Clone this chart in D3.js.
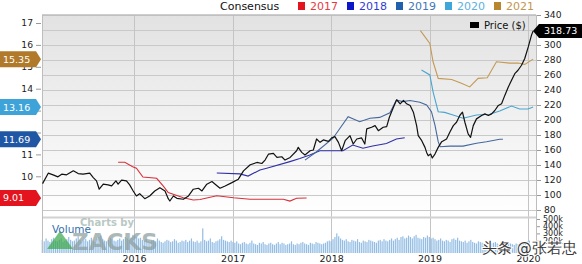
<!DOCTYPE html>
<html>
<head>
<meta charset="utf-8">
<script src="https://cdn.jsdelivr.net/npm/d3@7"></script>
<style>
  body { margin: 0; background: #fff; }
  text { font-family: "DejaVu Sans", Verdana, sans-serif; }
</style>
</head>
<body>
<div id="chart"></div>
<script>
// --- data ---
const priceData = [
  ["2015-01-27",115.2],["2015-02-17",129.1],["2015-03-07",126.9],["2015-03-25",124.2],["2015-04-08",127.8],
  ["2015-04-26",126.9],["2015-05-21",132.2],["2015-06-08",128.6],["2015-06-26",127.8],["2015-07-21",129.1],
  ["2015-08-03",123.2],["2015-08-15",118.8],["2015-08-25",107.7],["2015-09-09",114.4],["2015-09-27",113.5],
  ["2015-10-10",112.1],["2015-10-26",118.8],["2015-11-03",114.4],["2015-11-16",119.8],["2015-12-04",118.8],
  ["2015-12-16",113.5],["2015-12-29",105.4],["2016-01-10",98.7],["2016-01-22",101.8],["2016-02-10",95.1],
  ["2016-02-28",98.7],["2016-03-18",105.4],["2016-04-06",109.8],["2016-04-25",105.4],["2016-05-07",95.1],
  ["2016-05-13",92.0],["2016-05-26",98.7],["2016-06-08",95.6],["2016-07-02",94.3],["2016-07-21",98.7],
  ["2016-08-08",107.7],["2016-08-27",109.0],["2016-09-09",105.4],["2016-09-27",114.4],["2016-10-16",117.9],
  ["2016-10-28",114.4],["2016-11-15",109.0],["2016-12-04",112.1],["2016-12-29",116.5],["2017-01-22",121.1],
  ["2017-02-10",132.2],["2017-03-07",140.3],["2017-04-01",143.4],["2017-04-19",142.0],["2017-05-01",146.6],
  ["2017-05-14",154.6],["2017-06-01",155.4],["2017-06-14",150.1],["2017-07-02",151.0],["2017-07-14",146.6],
  ["2017-08-02",150.1],["2017-08-26",159.0],["2017-09-01",163.5],["2017-09-14",156.8],["2017-09-26",153.3],
  ["2017-10-15",159.0],["2017-10-27",160.0],["2017-11-08",174.7],["2017-11-21",170.2],["2017-12-03",173.4],
  ["2017-12-22",171.5],["2018-01-03",176.1],["2018-01-15",177.8],["2018-01-28",170.2],["2018-02-09",159.0],
  ["2018-02-22",172.4],["2018-03-12",179.1],["2018-03-24",168.0],["2018-04-06",174.7],["2018-04-24",176.1],
  ["2018-05-06",168.0],["2018-05-13",188.1],["2018-05-31",190.3],["2018-06-13",192.5],["2018-06-25",185.8],
  ["2018-07-13",190.3],["2018-07-26",191.2],["2018-08-05",203.7],["2018-08-20",217.1],["2018-09-01",227.0],
  ["2018-09-14",221.6],["2018-09-26",226.1],["2018-10-08",221.6],["2018-10-21",219.4],["2018-11-02",210.4],
  ["2018-11-08",201.5],["2018-11-14",192.5],["2018-11-20",179.1],["2018-12-03",172.4],["2018-12-15",163.5],
  ["2018-12-21",156.8],["2018-12-27",152.3],["2019-01-05",154.6],["2019-01-11",149.3],["2019-01-21",154.6],
  ["2019-02-02",163.5],["2019-02-15",171.1],["2019-03-05",174.7],["2019-03-17",183.6],["2019-03-30",192.5],
  ["2019-04-11",197.0],["2019-04-23",206.0],["2019-05-03",210.4],["2019-05-12",197.0],["2019-05-24",181.4],
  ["2019-06-02",176.9],["2019-06-12",192.5],["2019-06-24",201.5],["2019-07-13",206.0],["2019-07-25",208.2],
  ["2019-08-07",206.0],["2019-08-19",208.2],["2019-08-31",212.7],["2019-09-13",219.4],["2019-09-25",221.6],
  ["2019-10-07",232.8],["2019-10-20",243.9],["2019-11-01",252.9],["2019-11-13",261.8],["2019-11-25",266.3],
  ["2019-12-08",273.0],["2019-12-20",282.0],["2020-01-02",297.5],["2020-01-14",313.2],["2020-01-20",318.73]
];

const consensusYears = ["2017", "2018", "2019", "2020", "2021"];

const consensus2017 = [
  ["2015-11-03",10.64],["2015-11-28",10.64],["2015-12-27",10.44],["2016-01-10",10.37],["2016-02-03",9.97],
  ["2016-03-25",9.91],["2016-04-18",9.56],["2016-05-07",9.26],["2016-07-02",9.02],["2016-08-08",8.92],
  ["2016-09-02",8.94],["2016-11-03",9.11],["2017-01-04",9.02],["2017-03-06",8.95],["2017-07-08",8.95],
  ["2017-08-01",8.87],["2017-08-26",9.00],["2017-10-02",9.01]
];
const consensus2018 = [
  ["2016-11-03",10.15],["2017-01-28",10.11],["2017-02-27",10.01],["2017-04-12",10.29],["2017-05-07",10.37],
  ["2017-08-01",10.67],["2017-09-07",10.81],["2017-10-14",10.97],["2017-11-20",11.17],["2018-02-14",11.17],
  ["2018-03-22",11.43],["2018-04-29",11.28],["2018-06-04",11.38],["2018-07-25",11.50],["2018-08-31",11.70],
  ["2018-10-01",11.76]
];
const consensus2019 = [
  ["2017-09-26",10.74],["2017-11-08",11.12],["2018-01-08",11.74],["2018-03-05",12.72],["2018-04-17",12.49],
  ["2018-05-25",12.65],["2018-06-30",12.69],["2018-08-07",12.90],["2018-08-31",13.48],["2018-09-24",13.41],
  ["2018-10-20",13.46],["2018-11-26",13.38],["2018-12-21",13.26],["2019-01-08",12.95],["2019-01-21",12.34],
  ["2019-02-02",11.58],["2019-02-09",11.35],["2019-03-17",11.38],["2019-05-05",11.38],["2019-06-24",11.51],
  ["2019-07-31",11.58],["2019-09-18",11.69],["2019-09-30",11.69]
];
const consensus2020 = [
  ["2018-12-02",14.85],["2019-01-02",14.63],["2019-01-14",13.86],["2019-02-02",12.95],["2019-02-26",12.92],
  ["2019-03-29",12.80],["2019-05-05",12.65],["2019-06-24",12.80],["2019-08-12",12.83],["2019-09-18",12.98],
  ["2019-11-01",13.21],["2019-12-01",13.07],["2020-01-01",13.07],["2020-01-20",13.16]
];
const consensus2021 = [
  ["2018-11-28",16.65],["2019-01-02",16.07],["2019-01-14",15.23],["2019-02-02",14.47],["2019-03-24",14.42],
  ["2019-04-29",14.25],["2019-05-30",14.08],["2019-06-30",14.47],["2019-08-03",14.50],["2019-09-06",15.23],
  ["2019-10-25",15.17],["2019-11-25",15.17],["2019-12-20",15.11],["2020-01-20",15.35]
];

// weekly volume (thousands), first week starting 2015-01-26
const volumeStart = "2015-01-26";
const volumeK = [
  210,190,230,200,180,220,240,200,190,210,230,180,200,220,250,210,190,200,230,260,210,180,200,220,
  190,210,240,200,180,230,250,270,220,200,190,210,240,220,200,190,210,230,200,220,250,230,210,240,
  280,260,250,230,240,210,200,220,190,180,200,210,190,230,200,180,170,190,210,200,180,190,220,200,170,180,
  200,190,210,180,200,230,190,180,200,170,190,370,210,190,200,230,180,170,190,200,220,260,210,200,190,180,
  200,180,170,190,160,150,170,180,160,150,170,200,160,150,140,170,160,180,150,140,160,170,150,140,160,180,
  150,170,160,140,150,160,190,150,140,160,150,170,180,160,150,140,170,160,150,180,170,160,150,160,170,190,
  200,190,220,250,300,260,230,210,200,220,190,180,210,200,190,220,180,170,200,190,180,210,200,190,180,170,
  200,210,190,220,200,190,210,230,200,220,240,210,250,260,230,240,270,250,230,260,280,240,230,220,250,240,
  270,250,230,240,220,200,210,230,200,190,210,200,180,220,230,210,240,200,190,180,200,170,190,210,180,170,
  160,190,180,170,160,180,170,150,160,170,180,160,150,170,160,150,180,170,160,150,140,160,150,170,160,150,
  170,190,200
];

// tick labels (values whose labels sit under a badge in the picture are left out)
const epsTicks = [9, 10, 11, 12, 13, 14, 15, 16, 17];
const epsLabels = [10, 11, 14, 15, 16, 17];
const priceTicks = [80, 100, 120, 140, 160, 180, 200, 220, 240, 260, 280, 300, 320, 340];
const priceLabels = [80, 100, 120, 140, 160, 180, 200, 220, 240, 260, 280, 300, 340];
const volumeTicks = [200, 300, 400, 500];
const yearTicks = ["2016", "2017", "2018", "2019", "2020"];

// --- styles / layout ---
const seriesColors = ["#d8303a", "#2f2fa8", "#44679e", "#48a6cf", "#c39a55"];
const legendColors = ["#e3141d", "#0b16c8", "#2160ad", "#3ea6d8", "#b8862f"];
const badgeColors = {"2017": "#e3141d", "2019": "#1f57a5", "2020": "#3ea3d8", "2021": "#b07a2a"};

const W = 582, H = 264;
const plotL = 42, plotR = 536, plotT = 15, priceB = 217, volB = 253;

const parse = d3.timeParse("%Y-%m-%d");

const svg = d3.select("#chart").append("svg")
    .attr("width", W)
    .attr("height", H);

const x = d3.scaleTime()
    .domain([new Date(2016, 0, 1), new Date(2020, 0, 1)])
    .range([134, 528]);
const yPrice = d3.scaleLinear().domain([80, 340]).range([210, 15]);
const yEps = d3.scaleLinear().domain([9, 17]).range([198.2, 23]);
const yVol = d3.scaleLinear().domain([0, 500]).range([255, 219]);

// background gradient of the price panel
const defs = svg.append("defs");
const grad = defs.append("linearGradient")
    .attr("id", "bg").attr("x1", 0).attr("y1", 0).attr("x2", 0).attr("y2", 1);
grad.append("stop").attr("offset", "0%").attr("stop-color", "#e2e2e2");
grad.append("stop").attr("offset", "100%").attr("stop-color", "#ffffff");

defs.append("clipPath").attr("id", "clip")
  .append("rect")
    .attr("x", plotL).attr("y", plotT)
    .attr("width", plotR - plotL).attr("height", priceB - plotT);

svg.append("rect")
    .attr("x", plotL).attr("y", plotT)
    .attr("width", plotR - plotL).attr("height", priceB - plotT)
    .attr("fill", "url(#bg)");

// horizontal grid
svg.append("g").selectAll("line")
  .data(priceTicks)
  .join("line")
    .attr("x1", plotL).attr("x2", plotR)
    .attr("y1", d => Math.round(yPrice(d)) + 0.5)
    .attr("y2", d => Math.round(yPrice(d)) + 0.5)
    .attr("stroke", "#c9c9c9");

// vertical grid at years
svg.append("g").selectAll("line")
  .data(yearTicks)
  .join("line")
    .attr("x1", d => Math.round(x(parse(d + "-01-01"))) + 0.5)
    .attr("x2", d => Math.round(x(parse(d + "-01-01"))) + 0.5)
    .attr("y1", plotT).attr("y2", volB)
    .attr("stroke", "#c4c4c4");

// volume bars
const vStart = parse(volumeStart);
svg.append("g").selectAll("rect")
  .data(volumeK)
  .join("rect")
    .attr("x", (d, i) => x(d3.timeDay.offset(vStart, i * 7)) - 0.6)
    .attr("y", d => yVol(d))
    .attr("width", 1.2)
    .attr("height", d => volB - yVol(d))
    .attr("fill", "#93bde4");

// panel separator and borders
svg.append("line")
    .attr("x1", plotL).attr("x2", plotR).attr("y1", priceB + 0.5).attr("y2", priceB + 0.5)
    .attr("stroke", "#d2d2d2").attr("stroke-width", 2);
svg.append("line")
    .attr("x1", plotL).attr("x2", plotR).attr("y1", plotT).attr("y2", plotT)
    .attr("stroke", "#bdbdbd").attr("stroke-width", 1.5);
svg.append("line")
    .attr("x1", plotL + 0.5).attr("x2", plotL + 0.5).attr("y1", plotT).attr("y2", volB)
    .attr("stroke", "#bdbdbd");
svg.append("line")
    .attr("x1", plotR + 0.5).attr("x2", plotR + 0.5).attr("y1", plotT).attr("y2", volB)
    .attr("stroke", "#bdbdbd");

// Zacks watermark
const wm = svg.append("g").attr("opacity", 0.7);
wm.append("path")
    .attr("d", "M47,249 L60,231 L73,249 Z")
    .attr("fill", "#3aa84a");
wm.append("text")
    .attr("x", 80).attr("y", 226)
    .attr("font-size", 10).attr("font-weight", "bold")
    .attr("fill", "#9bb2ad")
    .text("Charts by");
wm.append("text")
    .attr("x", 72).attr("y", 249.5)
    .attr("font-size", 23).attr("font-weight", "bold")
    .attr("fill", "#8a9c9b")
    .text("ZACKS");

svg.append("text")
    .attr("x", 52).attr("y", 233)
    .attr("font-size", 10.5)
    .attr("fill", "#3470ad")
    .text("Volume");

// consensus lines
const epsLine = d3.line()
    .x(d => x(parse(d[0])))
    .y(d => yEps(d[1]));
const consensusSeries = [consensus2017, consensus2018, consensus2019, consensus2020, consensus2021];

const lineLayer = svg.append("g").attr("clip-path", "url(#clip)");
consensusSeries.forEach((s, i) => {
  lineLayer.append("path")
      .attr("d", epsLine(s))
      .attr("fill", "none")
      .attr("stroke", seriesColors[i])
      .attr("stroke-width", 1.1);
});

// price line
const priceLine = d3.line()
    .x(d => x(parse(d[0])))
    .y(d => yPrice(d[1]));
lineLayer.append("path")
    .attr("d", priceLine(priceData))
    .attr("fill", "none")
    .attr("stroke", "#111")
    .attr("stroke-width", 1.2)
    .attr("stroke-linejoin", "round");

// --- axes ---
function styleAxis(g, size, shown) {
  g.select(".domain").remove();
  g.selectAll(".tick line").attr("stroke", "#999");
  g.selectAll(".tick text")
      .attr("font-family", "DejaVu Sans, Verdana, sans-serif")
      .attr("font-size", size)
      .attr("fill", "#222");
  if (shown) g.selectAll(".tick text").filter(d => !shown.includes(d)).remove();
}

svg.append("g")
    .attr("transform", "translate(" + (plotL - 1) + ",0)")
    .call(d3.axisLeft(yEps).tickValues(epsTicks).tickSize(5).tickPadding(3).tickFormat(d3.format("d")))
    .call(g => styleAxis(g, 9.2, epsLabels));

svg.append("g")
    .attr("transform", "translate(" + (plotR + 1) + ",0)")
    .call(d3.axisRight(yPrice).tickValues(priceTicks).tickSize(4).tickPadding(3))
    .call(g => styleAxis(g, 9.2, priceLabels));

svg.append("g")
    .attr("transform", "translate(" + (plotR + 1) + ",0)")
    .call(d3.axisRight(yVol).tickValues(volumeTicks).tickSize(3).tickPadding(3).tickFormat(d => d + "k"))
    .call(g => styleAxis(g, 8));

svg.append("g")
    .attr("transform", "translate(0," + volB + ")")
    .call(d3.axisBottom(x).tickValues(yearTicks.map(d => parse(d + "-01-01"))).tickSize(0).tickPadding(2).tickFormat(d3.timeFormat("%Y")))
    .call(g => styleAxis(g, 9.5));

// --- value badges ---
const lastVals = consensusSeries
    .map((s, i) => ({ year: consensusYears[i], v: s[s.length - 1][1] }))
    .filter(d => badgeColors[d.year]);

const leftBadges = svg.append("g");
lastVals.forEach(d => {
  const cy = yEps(d.v);
  leftBadges.append("path")
      .attr("d", `M0,${cy - 8} L36,${cy - 8} L41,${cy} L36,${cy + 8} L0,${cy + 8} Z`)
      .attr("fill", badgeColors[d.year]);
  leftBadges.append("text")
      .attr("x", 3).attr("y", cy + 3.5)
      .attr("font-size", 9.5)
      .attr("fill", "#fff")
      .text(d3.format(".2f")(d.v));
});

const lastPrice = priceData[priceData.length - 1][1];
const py = yPrice(lastPrice);
svg.append("path")
    .attr("d", `M533,${py} L539,${py - 7} L582,${py - 7} L582,${py + 7} L539,${py + 7} Z`)
    .attr("fill", "#000");
svg.append("text")
    .attr("x", 544).attr("y", py + 3.5)
    .attr("font-size", 9.5)
    .attr("fill", "#fff")
    .text(d3.format(".2f")(lastPrice));

// price legend
svg.append("rect")
    .attr("x", 470).attr("y", 22).attr("width", 9).attr("height", 6)
    .attr("fill", "#000");
svg.append("text")
    .attr("x", 484).attr("y", 28.5)
    .attr("font-size", 10)
    .attr("fill", "#111")
    .text("Price ($)");

// consensus legend
svg.append("text")
    .attr("x", 220).attr("y", 9.5)
    .attr("font-size", 11)
    .attr("fill", "#111")
    .text("Consensus");

const legend = svg.append("g");
consensusYears.forEach((yr, i) => {
  const lx = 298 + i * 49;
  legend.append("rect")
      .attr("x", lx).attr("y", 2).attr("width", 7).attr("height", 8)
      .attr("fill", legendColors[i]);
  legend.append("text")
      .attr("x", lx + 12).attr("y", 10)
      .attr("font-size", 11)
      .attr("fill", legendColors[i])
      .attr("opacity", 0.85)
      .text(yr);
});

// toutiao watermark
svg.append("text")
    .attr("x", 482).attr("y", 253)
    .attr("font-family", "Noto Sans CJK SC")
    .attr("font-size", 15)
    .attr("fill", "#3a3a3a")
    .attr("stroke", "#fff")
    .attr("stroke-width", 2)
    .attr("paint-order", "stroke")
    .text("头条 @张若忠");
</script>
</body>
</html>
